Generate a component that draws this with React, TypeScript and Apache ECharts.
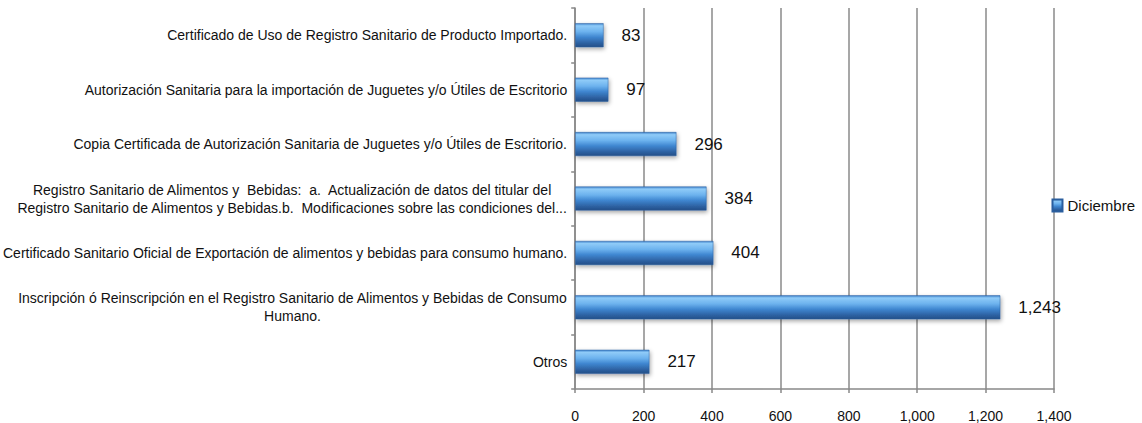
import React, { useEffect, useRef } from "react";
import * as echarts from "echarts";

const categories: string[] = [
  "Otros",
  "Inscripción ó Reinscripción en el Registro Sanitario de Alimentos y Bebidas de Consumo\nHumano.",
  "Certificado Sanitario Oficial de Exportación de alimentos y bebidas para consumo humano.",
  "Registro Sanitario de Alimentos y  Bebidas:  a.  Actualización de datos del titular del\nRegistro Sanitario de Alimentos y Bebidas.b.  Modificaciones sobre las condiciones del...",
  "Copia Certificada de Autorización Sanitaria de Juguetes y/o Útiles de Escritorio.",
  "Autorización Sanitaria para la importación de Juguetes y/o Útiles de Escritorio",
  "Certificado de Uso de Registro Sanitario de Producto Importado.",
];

const diciembre: number[] = [217, 1243, 404, 384, 296, 97, 83];

const xTicks = { min: 0, max: 1400, interval: 200 };

const FONT = "'Liberation Sans', Arial, sans-serif";

export default function App() {
  const ref = useRef<HTMLDivElement>(null);

  useEffect(() => {
    document.body.style.margin = "0";
    if (!ref.current) return;
    const chart = echarts.init(ref.current, undefined, { renderer: "svg" });
    const barColor = new echarts.graphic.LinearGradient(0, 0, 0, 1, [
      { offset: 0, color: "#3f84cc" },
      { offset: 0.1, color: "#8fcbf8" },
      { offset: 0.35, color: "#6cb2ee" },
      { offset: 0.58, color: "#3f86d0" },
      { offset: 0.85, color: "#2c5f9f" },
      { offset: 1, color: "#234f88" },
    ]);
    chart.setOption({
      animation: false,
      backgroundColor: "#ffffff",
      textStyle: { fontFamily: FONT },
      grid: { left: 575, right: 88, top: 8, bottom: 32, containLabel: false },
      legend: {
        right: 2,
        top: 193,
        itemWidth: 10,
        itemHeight: 12,
        itemGap: 7,
        icon: "rect",
        data: ["Diciembre"],
        textStyle: { fontFamily: FONT, fontSize: 15, color: "#111" },
      },
      xAxis: {
        type: "value",
        min: xTicks.min,
        max: xTicks.max,
        interval: xTicks.interval,
        axisLine: { show: true, lineStyle: { color: "#888", width: 1.5 } },
        axisTick: { show: true, length: 4, lineStyle: { color: "#888", width: 1.5 } },
        splitLine: { show: true, lineStyle: { color: "#8a8a8a", width: 1.5 } },
        axisLabel: {
          fontFamily: FONT,
          fontSize: 14,
          color: "#111",
          margin: 20,
          formatter: (v: number) => v.toLocaleString("en-US"),
        },
      },
      yAxis: {
        type: "category",
        data: categories,
        axisLine: { show: true, lineStyle: { color: "#888", width: 1.5 } },
        axisTick: { show: true, length: 4, inside: false, lineStyle: { color: "#888", width: 1.5 } },
        splitLine: { show: false },
        axisLabel: {
          fontFamily: FONT,
          fontSize: 14,
          color: "#111",
          margin: 8,
          align: "right",
          formatter: (v: string) => `{c|${v}}`,
          rich: {
            c: {
              align: "center",
              fontFamily: FONT,
              fontSize: 14,
              lineHeight: 18,
              color: "#111",
            },
          },
        },
      },
      series: [
        {
          name: "Diciembre",
          type: "bar",
          data: diciembre,
          barWidth: 24,
          itemStyle: {
            color: barColor,
            borderColor: "#2a5e9e",
            borderWidth: 0.5,
            shadowColor: "rgba(0,0,0,0.35)",
            shadowBlur: 4,
            shadowOffsetX: 1,
            shadowOffsetY: 2,
          },
          label: {
            show: true,
            position: "right",
            distance: 18,
            fontFamily: FONT,
            fontSize: 17,
            color: "#111",
            formatter: (p: any) => Number(p.value).toLocaleString("en-US"),
          },
        },
      ],
    });
    return () => chart.dispose();
  }, []);

  return <div ref={ref} style={{ width: 1142, height: 423 }} />;
}
